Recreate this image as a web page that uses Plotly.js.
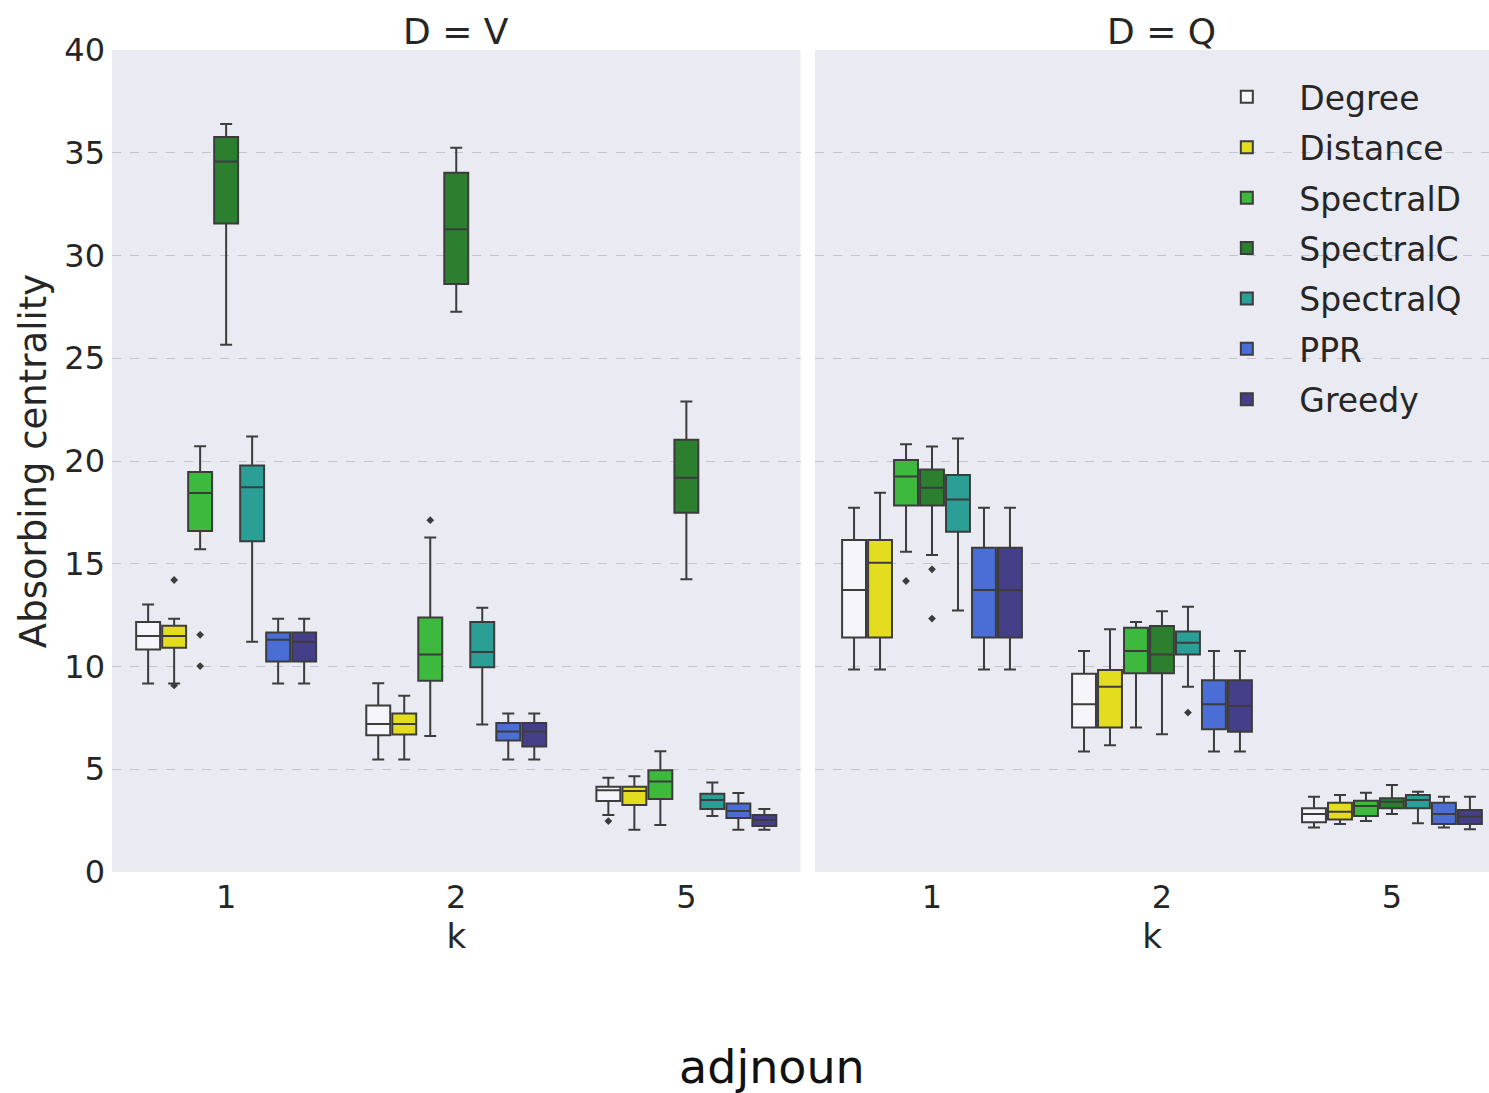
<!DOCTYPE html>
<html>
<head>
<meta charset="utf-8">
<script src="https://cdn.plot.ly/plotly-3.0.1.min.js"></script>
<style>html,body{margin:0;padding:0;background:#fff;}#chart{width:1489px;height:1093px;}</style>
</head>
<body>
<div id="chart"></div>
<script>
// ---------- data ----------
const kLabels = ['1', '2', '5'];
const methods = ['Degree', 'Distance', 'SpectralD', 'SpectralC', 'SpectralQ', 'PPR', 'Greedy'];
const panels = ['D = V', 'D = Q'];

// D = V  (rows: methods, columns: k = 1, 2, 5)
const V_lower = [
  [9.17, 5.48, 2.77], [9.17, 5.48, 2.05], [15.71, 6.62, 2.29], [25.66, 27.26, 14.24],
  [11.21, 7.18, 2.73], [9.17, 5.48, 2.05], [9.17, 5.48, 2.05]];
const V_q1 = [
  [10.83, 6.65, 3.45], [10.91, 6.69, 3.26], [16.59, 9.31, 3.55], [31.56, 28.61, 17.48],
  [16.09, 9.96, 3.06], [10.24, 6.40, 2.63], [10.24, 6.11, 2.24]];
const V_median = [
  [11.48, 7.20, 3.98], [11.48, 7.20, 3.94], [18.44, 10.59, 4.40], [34.58, 31.28, 19.18],
  [18.72, 10.71, 3.50], [11.30, 6.84, 2.97], [11.20, 6.84, 2.53]];
const V_q3 = [
  [12.17, 8.10, 4.15], [11.98, 7.71, 4.15], [19.46, 12.38, 4.95], [35.77, 34.03, 21.04],
  [19.78, 12.16, 3.81], [11.65, 7.25, 3.33], [11.65, 7.25, 2.77]];
const V_upper = [
  [13.02, 9.19, 4.59], [12.32, 8.58, 4.66], [20.72, 16.28, 5.87], [36.40, 35.24, 22.90],
  [21.19, 12.86, 4.35], [12.32, 7.71, 3.84], [12.32, 7.71, 3.06]];
// outliers: [method index, k index, value]
const V_outliers = [[1, 0, 14.21], [1, 0, 9.08], [2, 0, 11.54], [2, 0, 10.02], [2, 1, 17.12], [0, 2, 2.48]];

// D = Q
const Q_lower = [
  [9.86, 5.86, 2.17], [9.86, 6.17, 2.34], [15.59, 7.03, 2.48], [15.43, 6.70, 2.82],
  [12.73, 9.02, 2.37], [9.86, 5.86, 2.17], [9.86, 5.86, 2.08]];
const Q_q1 = [
  [11.41, 7.03, 2.42], [11.41, 7.03, 2.56], [17.84, 9.67, 2.72], [17.84, 9.67, 3.10],
  [16.56, 10.59, 3.10], [11.41, 6.95, 2.34], [11.41, 6.82, 2.34]];
const Q_median = [
  [13.72, 8.16, 2.82], [15.05, 9.02, 2.93], [19.24, 10.76, 3.21], [18.70, 10.59, 3.42],
  [18.13, 11.16, 3.50], [13.72, 8.16, 2.82], [13.72, 8.08, 2.69]];
const Q_q3 = [
  [16.16, 9.65, 3.10], [16.16, 9.83, 3.37], [20.05, 11.89, 3.47], [19.59, 11.97, 3.59],
  [19.32, 11.70, 3.75], [15.78, 9.33, 3.37], [15.78, 9.33, 3.02]];
const Q_upper = [
  [17.73, 10.76, 3.66], [18.46, 11.81, 3.75], [20.81, 12.17, 3.86], [20.70, 12.69, 4.23],
  [21.09, 12.91, 3.91], [17.73, 10.76, 3.66], [17.73, 10.76, 3.66]];
const Q_outliers = [[2, 0, 14.16], [3, 0, 14.73], [3, 0, 12.33], [4, 1, 7.76]];

// ---------- styles ----------
const fills = ['#f5f5fb', '#e4dc1f', '#3dba3d', '#2b7f2e', '#2b9f96', '#4a6ed6', '#453e88'];
const edge = '#3c3c3c';
const FONT = 'DejaVu Sans, sans-serif';
const TXT = '#262626';
const STEP = 0.113;     // hue spacing inside a category (category units)
const BOXW = 0.104;     // box width (category units)

const catPos = kLabels.map((_, i) => i);
const offset = m => (m - (methods.length - 1) / 2) * STEP;

const traces = [];
const panelData = [
  {xa: 'x', lo: V_lower, q1: V_q1, md: V_median, q3: V_q3, hi: V_upper, out: V_outliers},
  {xa: 'x2', lo: Q_lower, q1: Q_q1, md: Q_median, q3: Q_q3, hi: Q_upper, out: Q_outliers}
];
panelData.forEach((p, pi) => {
  methods.forEach((name, m) => {
    traces.push({
      type: 'box', name: name, legendgroup: name, showlegend: pi === 0,
      xaxis: p.xa, yaxis: 'y',
      x: catPos.map(c => c + offset(m)),
      lowerfence: p.lo[m], q1: p.q1[m], median: p.md[m], q3: p.q3[m], upperfence: p.hi[m],
      width: BOXW, whiskerwidth: 0.5, boxpoints: false,
      fillcolor: fills[m], line: {color: edge, width: 2},
      hoverinfo: 'y'
    });
  });
  traces.push({
    type: 'scatter', mode: 'markers', showlegend: false, xaxis: p.xa, yaxis: 'y',
    x: p.out.map(o => catPos[o[1]] + offset(o[0])),
    y: p.out.map(o => o[2]),
    marker: {symbol: 'diamond', size: 6, color: edge},
    hoverinfo: 'y'
  });
});

const xBase = {
  tickvals: catPos, ticktext: kLabels, showgrid: false, zeroline: false, showline: false,
  ticks: '', tickfont: {family: FONT, size: 32, color: TXT}, ticklabelstandoff: 3,
  title: {text: 'k', font: {family: FONT, size: 34, color: TXT}, standoff: 8},
  anchor: 'y', fixedrange: true
};

const layout = {
  width: 1489, height: 1093,
  margin: {l: 112, r: 0, t: 50, b: 221},
  paper_bgcolor: '#ffffff', plot_bgcolor: '#eaeaf2',
  showlegend: true,
  xaxis: Object.assign({}, xBase, {domain: [0, 0.5], range: [-0.496, 2.496]}),
  xaxis2: Object.assign({}, xBase, {domain: [0.5105, 1], range: [-0.509, 2.422]}),
  yaxis: {
    range: [0, 40], dtick: 5, tick0: 0, showgrid: true, gridcolor: '#c4c4cc', griddash: 'dash', gridwidth: 1,
    zeroline: false, showline: false, ticks: '', ticklabelstandoff: 6,
    tickfont: {family: FONT, size: 32, color: TXT},
    title: {text: 'Absorbing centrality', font: {family: FONT, size: 37, color: TXT}, standoff: 6},
    fixedrange: true
  },
  legend: {
    x: 0.786, y: 0.977, xanchor: 'left', yanchor: 'top',
    bgcolor: 'rgba(0,0,0,0)', font: {family: FONT, size: 33, color: TXT},
    traceorder: 'grouped', tracegroupgap: 4.5, itemwidth: 95
  },
  annotations: [
    {text: panels[0], xref: 'x', x: 1, yref: 'paper', y: 1, yanchor: 'bottom', yshift: -4,
     showarrow: false, font: {family: FONT, size: 36, color: TXT}},
    {text: panels[1], xref: 'x2', x: 1, yref: 'paper', y: 1, yanchor: 'bottom', yshift: -4,
     showarrow: false, font: {family: FONT, size: 36, color: TXT}},
    {text: 'adjnoun', xref: 'paper', x: 0.479, yref: 'paper', y: -0.237, yanchor: 'middle',
     showarrow: false, font: {family: FONT, size: 46, color: '#111111'}}
  ]
};

Plotly.newPlot('chart', traces, layout, {displayModeBar: false, staticPlot: true});
</script>
</body>
</html>
